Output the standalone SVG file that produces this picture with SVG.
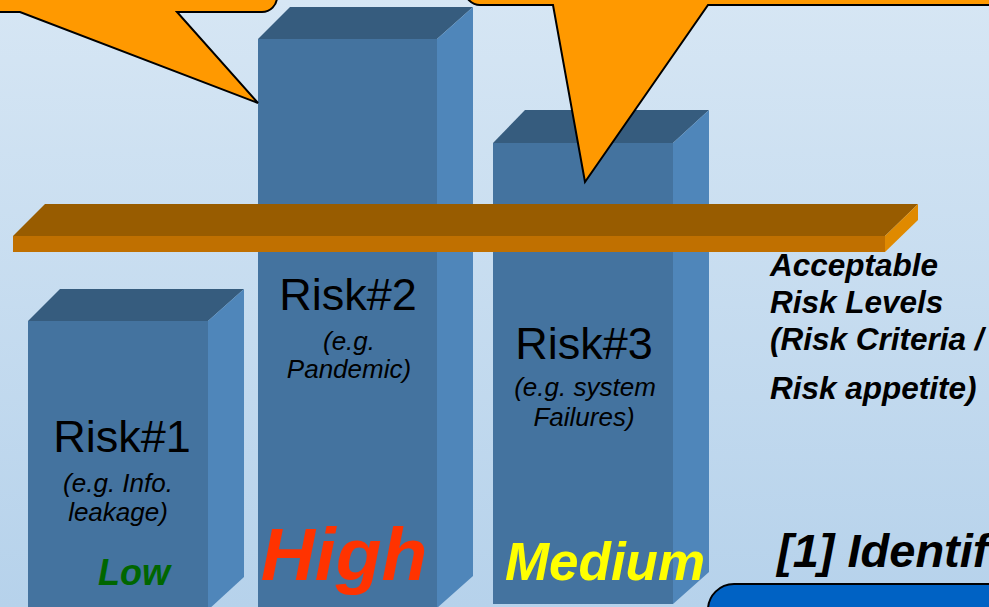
<svg xmlns="http://www.w3.org/2000/svg" width="989" height="607" viewBox="0 0 989 607">
  <defs>
    <linearGradient id="bg" x1="0" y1="0" x2="0" y2="1">
      <stop offset="0" stop-color="#D6E6F4"/>
      <stop offset="1" stop-color="#B6D2EB"/>
    </linearGradient>
  </defs>
  <style>
    .front { fill: #44739F; }
    .top { fill: #365C7E; }
    .side { fill: #4F86BA; }
    .plank-top { fill: #985C00; }
    .plank-front { fill: #C07000; }
    .plank-end { fill: #E08A00; }
    .callout { fill: #FF9900; stroke: #000000; stroke-width: 2; stroke-linejoin: miter; }
    .risk { font-family: "Liberation Sans", Arial, sans-serif; font-size: 45px; fill: #000000; text-anchor: middle; }
    .eg { font-family: "Liberation Sans", Arial, sans-serif; font-size: 26px; font-style: italic; fill: #000000; text-anchor: middle; }
    .level { font-family: "Liberation Sans", Arial, sans-serif; font-weight: bold; font-style: italic; text-anchor: middle; }
    .note { font-family: "Liberation Sans", Arial, sans-serif; font-size: 31.5px; font-weight: bold; font-style: italic; fill: #000000; }
  </style>

  <!-- background -->
  <rect x="0" y="0" width="989" height="607" fill="url(#bg)"/>

  <!-- risk bar 1 -->
  <g id="risk1">
    <polygon class="top" points="28,321 60,289 244,289 208,321"/>
    <polygon class="side" points="208,321 244,289 244,577 208,610"/>
    <rect class="front" x="28" y="321" width="180" height="290"/>
    <text class="risk" x="122" y="452">Risk#1</text>
    <text class="eg" x="118" y="492">(e.g. Info.</text>
    <text class="eg" x="118" y="521">leakage)</text>
    <text class="level" x="134" y="585" font-size="36" fill="#006600">Low</text>
  </g>

  <!-- risk bar 2 -->
  <g id="risk2">
    <polygon class="top" points="258,39 290,7 473,7 437,39"/>
    <polygon class="side" points="437,39 473,7 473,576 437,608"/>
    <rect class="front" x="258" y="39" width="179" height="572"/>
  </g>

  <!-- risk bar 3 -->
  <g id="risk3">
    <polygon class="top" points="493,143 525,110 709,110 673,143"/>
    <polygon class="side" points="673,143 709,110 709,572 673,604"/>
    <rect class="front" x="493" y="143" width="180" height="461"/>
  </g>

  <!-- acceptable risk level plank -->
  <g id="threshold">
    <polygon class="plank-top" points="13,236 45,204 918,204 885,236"/>
    <polygon class="plank-end" points="885,236 918,204 918,220 885,252"/>
    <rect class="plank-front" x="13" y="236" width="872" height="16"/>
  </g>

  <!-- labels of bars 2 and 3 (in front of the plank) -->
  <g id="risk2-labels">
    <text class="risk" x="348" y="310">Risk#2</text>
    <text class="eg" x="349" y="350">(e.g.</text>
    <text class="eg" x="349" y="378">Pandemic)</text>
    <text class="level" x="344" y="580" font-size="75" fill="#FF3300">High</text>
  </g>
  <g id="risk3-labels">
    <text class="risk" x="584" y="359">Risk#3</text>
    <text class="eg" x="585" y="396">(e.g. system</text>
    <text class="eg" x="584" y="426">Failures)</text>
    <text class="level" x="605" y="580" font-size="53" fill="#FFFF00">Medium</text>
  </g>

  <!-- callouts -->
  <g id="callout-left">
    <path class="callout" d="M -10 -30 L -10 12 L 20 12 L 258 103 L 177 12 L 262 12 A 15 15 0 0 0 277 -3 L 277 -30 Z"/>
  </g>
  <g id="callout-right">
    <path class="callout" d="M 465 -30 L 465 -10 A 15 15 0 0 0 480 5 L 553 5 L 585 182 L 708 5 L 1000 5 L 1000 -30 Z"/>
  </g>

  <!-- criteria note -->
  <g id="criteria">
    <text class="note" x="770" y="276">Acceptable</text>
    <text class="note" x="770" y="313">Risk Levels</text>
    <text class="note" x="770" y="350">(Risk Criteria /</text>
    <text class="note" x="770" y="399">Risk appetite)</text>
  </g>

  <!-- step heading and panel -->
  <g id="step1">
    <text x="777" y="567" font-family="'Liberation Sans', Arial, sans-serif" font-size="47" font-weight="bold" font-style="italic" fill="#000000">[1] Identif</text>
    <rect x="708" y="584" width="320" height="80" rx="26" ry="26" fill="#0062C4" stroke="#000000" stroke-width="2"/>
  </g>
</svg>
